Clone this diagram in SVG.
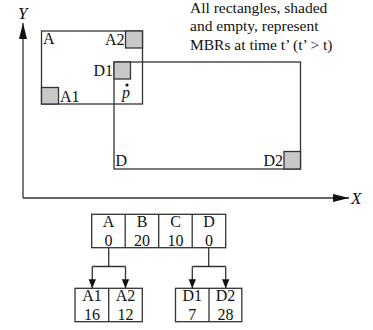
<svg xmlns="http://www.w3.org/2000/svg" width="373" height="330" viewBox="0 0 373 330">
<style>
.ln{stroke:#333;stroke-width:1.3;fill:none}
.sh{stroke:#333;stroke-width:1.3;fill:#c8c8c8}
.box{stroke:#333;stroke-width:1.3;fill:#fff}
text{font-family:"Liberation Serif","Times New Roman",serif;font-size:16px;fill:#111}
.nt{font-size:15.5px}
.it{font-style:italic;font-size:17px}
.c{text-anchor:middle}
.r{text-anchor:end}
</style>
<defs>
<marker id="ah" markerWidth="9" markerHeight="11" refX="11" refY="4.5" orient="auto" markerUnits="userSpaceOnUse" viewBox="0 0 11 9">
<path d="M0,0 L11,4.5 L0,9 z" fill="#111"/>
</marker>
<marker id="axh" markerWidth="16" markerHeight="8" refX="16" refY="4" orient="auto" markerUnits="userSpaceOnUse">
<path d="M0,0 L16,4 L0,8 z" fill="#111"/>
</marker>
</defs>
<g id="axes">
<path class="ln" d="M23,198 V23" marker-end="url(#axh)"/>
<path class="ln" d="M23,198 H349" marker-end="url(#axh)"/>
<text class="it" x="18" y="19">Y</text>
<text class="it" x="351" y="204">X</text>
</g>
<g id="note">
<text class="nt" x="190" y="13">All rectangles, shaded</text>
<text class="nt" x="190" y="31">and empty, represent</text>
<text class="nt" x="190" y="50">MBRs at time t’ (t’ &gt; t)</text>
</g>
<g id="rectA">
<rect class="ln" x="41.5" y="31" width="101" height="73"/>
<text x="43" y="44">A</text>
</g>
<g id="A2">
<rect class="sh" x="125.5" y="31" width="17" height="17"/>
<text class="r" x="124.5" y="45">A2</text>
</g>
<g id="A1">
<rect class="sh" x="41.5" y="87.5" width="17" height="16.5"/>
<text x="60" y="102">A1</text>
</g>
<g id="rectD">
<rect class="ln" x="114" y="62" width="186.5" height="107"/>
<text x="115.5" y="166">D</text>
</g>
<g id="D1">
<rect class="sh" x="114" y="62" width="16.5" height="17"/>
<text class="r" x="113" y="76">D1</text>
</g>
<g id="D2">
<rect class="sh" x="284" y="151.5" width="16.5" height="17.5"/>
<text class="r" x="283" y="166">D2</text>
</g>
<g id="p">
<circle cx="127" cy="85" r="1.6" fill="#111"/>
<text class="it" x="122" y="98" style="font-size:16px">p</text>
</g>
<g id="root">
<rect class="box" x="91.7" y="214.3" width="134" height="33.4"/>
<path class="ln" d="M125.2,214.3 V247.7 M158.7,214.3 V247.7 M192.2,214.3 V247.7"/>
<text class="c" x="108.5" y="227">A</text>
<text class="c" x="108.5" y="245.5">0</text>
<text class="c" x="142" y="227">B</text>
<text class="c" x="142" y="245.5">20</text>
<text class="c" x="175.5" y="227">C</text>
<text class="c" x="175.5" y="245.5">10</text>
<text class="c" x="209" y="227">D</text>
<text class="c" x="209" y="245.5">0</text>
</g>
<g id="nodeA">
<rect class="box" x="75" y="288.3" width="67.3" height="33.4"/>
<path class="ln" d="M108.7,288.3 V321.7"/>
<text class="c" x="92" y="301">A1</text>
<text class="c" x="92" y="319.5">16</text>
<text class="c" x="125.5" y="301">A2</text>
<text class="c" x="125.5" y="319.5">12</text>
</g>
<g id="nodeD">
<rect class="box" x="175.5" y="288.3" width="66.3" height="33.4"/>
<path class="ln" d="M209,288.3 V321.7"/>
<text class="c" x="192.3" y="301">D1</text>
<text class="c" x="192.3" y="319.5">7</text>
<text class="c" x="225.5" y="301">D2</text>
<text class="c" x="225.5" y="319.5">28</text>
</g>
<g id="connectors">
<path class="ln" d="M108.7,247.7 V266.5 M92.3,266.5 H125.5"/>
<path class="ln" d="M92.3,266.5 V288.3" marker-end="url(#ah)"/>
<path class="ln" d="M125.5,266.5 V288.3" marker-end="url(#ah)"/>
<path class="ln" d="M208.7,247.7 V266.5 M192.3,266.5 H225.7"/>
<path class="ln" d="M192.3,266.5 V288.3" marker-end="url(#ah)"/>
<path class="ln" d="M225.7,266.5 V288.3" marker-end="url(#ah)"/>
</g>
</svg>
